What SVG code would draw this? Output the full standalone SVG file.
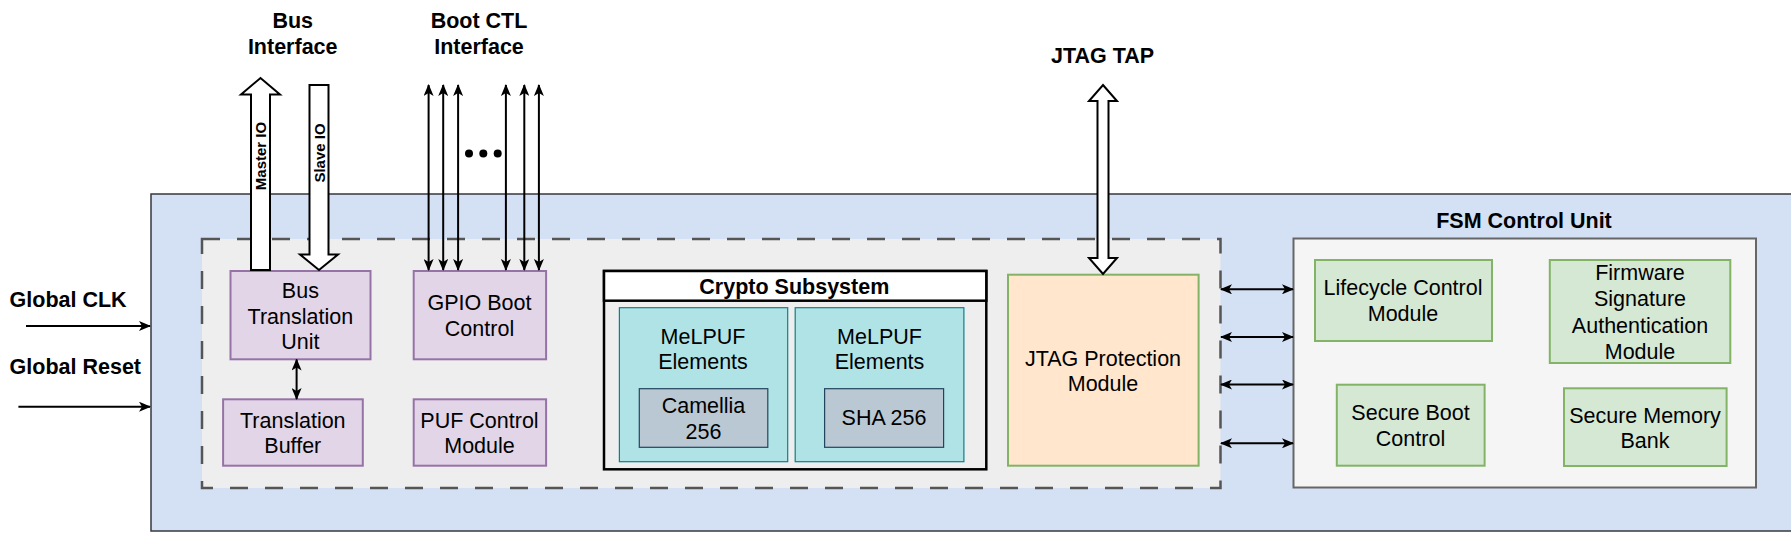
<svg xmlns="http://www.w3.org/2000/svg" width="1791" height="534" viewBox="0 0 1791 534">
<defs>
<marker id="ah" viewBox="0 0 12 10" refX="11" refY="5" markerWidth="12" markerHeight="10" markerUnits="userSpaceOnUse" orient="auto-start-reverse">
<path d="M0,0 L12,5 L0,10 L3,5 Z" fill="#000"/>
</marker>
</defs>
<style>
text{font-family:"Liberation Sans",Arial,sans-serif;fill:#000;}
.t{font-size:21.5px;text-anchor:middle;}
.b{font-size:21.5px;font-weight:bold;}
.bc{font-size:21.5px;font-weight:bold;text-anchor:middle;}
.lab{font-size:15px;font-weight:bold;text-anchor:middle;}
.purple{fill:#e1d5e7;stroke:#9673a6;stroke-width:2;}
.green{fill:#d5e8d4;stroke:#82b366;stroke-width:2;}
.teal{fill:#b0e3e6;stroke:#0e8088;stroke-width:1.2;}
.grey{fill:#bac8d3;stroke:#23445d;stroke-width:1.2;}
.conn{stroke:#000;stroke-width:2;fill:none;marker-end:url(#ah);}
.dbl{marker-start:url(#ah);}
.block{fill:#fff;stroke:#000;stroke-width:2;stroke-linejoin:miter;}
</style>

<!-- containers -->
<g id="outer">
<rect x="151" y="194" width="1660" height="337" fill="#d4e1f5" stroke="#36393d" stroke-width="1.5"/>
</g>
<g id="dashed-region">
<rect x="202" y="239" width="1018.5" height="249" fill="#eeeeee" stroke="#555" stroke-width="2.5" stroke-dasharray="18 17"/>
</g>
<g id="fsm-control-unit">
<text class="bc" x="1524" y="228">FSM Control Unit</text>
<rect x="1293.5" y="238.5" width="462.5" height="249" fill="#f5f5f5" stroke="#666" stroke-width="2"/>
</g>

<!-- external labels -->
<g id="bus-interface-label">
<text class="bc" x="292.7" y="28">Bus</text>
<text class="bc" x="292.7" y="54">Interface</text>
</g>
<g id="boot-ctl-label">
<text class="bc" x="479" y="28">Boot CTL</text>
<text class="bc" x="479" y="54">Interface</text>
</g>
<g id="jtag-tap-label">
<text class="bc" x="1102.5" y="62.5">JTAG TAP</text>
</g>
<g id="global-clk-label"><text class="b" x="9.6" y="307">Global CLK</text></g>
<g id="global-reset-label"><text class="b" x="9.6" y="374">Global Reset</text></g>

<!-- nodes -->
<g id="bus-translation-unit">
<rect class="purple" x="230.5" y="271" width="140" height="88.3"/>
<text class="t" x="300.4" y="297.5">Bus</text>
<text class="t" x="300.4" y="323.5">Translation</text>
<text class="t" x="300.4" y="348.5">Unit</text>
</g>
<g id="gpio-boot-control">
<rect class="purple" x="413.7" y="271" width="132.4" height="88.3"/>
<text class="t" x="479.5" y="310">GPIO Boot</text>
<text class="t" x="479.5" y="336">Control</text>
</g>
<g id="translation-buffer">
<rect class="purple" x="223.1" y="399.3" width="139.7" height="66.4"/>
<text class="t" x="292.8" y="427.5">Translation</text>
<text class="t" x="292.8" y="452.5">Buffer</text>
</g>
<g id="puf-control-module">
<rect class="purple" x="413.7" y="399.3" width="132.4" height="66.4"/>
<text class="t" x="479.5" y="427.5">PUF Control</text>
<text class="t" x="479.5" y="452.5">Module</text>
</g>
<g id="crypto-subsystem">
<rect x="604" y="271" width="382.3" height="198.3" fill="#eeeeee" stroke="#000" stroke-width="2.5"/>
<rect x="604" y="271" width="382.3" height="29.7" fill="#fff" stroke="#000" stroke-width="2.5"/>
<text class="bc" x="794.3" y="294">Crypto Subsystem</text>
</g>
<g id="melpuf-1">
<rect class="teal" x="619.4" y="307.7" width="168.3" height="154"/>
<text class="t" x="703" y="343.5">MeLPUF</text>
<text class="t" x="703" y="368.5">Elements</text>
</g>
<g id="camellia-256">
<rect class="grey" x="639.3" y="388.7" width="128.5" height="58.6"/>
<text class="t" x="703.5" y="412.5">Camellia</text>
<text class="t" x="703.5" y="438.5">256</text>
</g>
<g id="melpuf-2">
<rect class="teal" x="795.2" y="307.7" width="168.7" height="154"/>
<text class="t" x="879.5" y="343.5">MeLPUF</text>
<text class="t" x="879.5" y="368.5">Elements</text>
</g>
<g id="sha-256">
<rect class="grey" x="824.6" y="388.7" width="119" height="58.6"/>
<text class="t" x="884" y="425">SHA 256</text>
</g>
<g id="jtag-protection-module">
<rect x="1008" y="274.7" width="190.6" height="191" fill="#ffe6cc" stroke="#82b366" stroke-width="2"/>
<text class="t" x="1103" y="366">JTAG Protection</text>
<text class="t" x="1103" y="391">Module</text>
</g>
<g id="lifecycle-control-module">
<rect class="green" x="1315" y="260" width="177" height="81"/>
<text class="t" x="1403" y="295">Lifecycle Control</text>
<text class="t" x="1403" y="321">Module</text>
</g>
<g id="firmware-signature-authentication-module">
<rect class="green" x="1549.8" y="260" width="180.5" height="103"/>
<text class="t" x="1640" y="280">Firmware</text>
<text class="t" x="1640" y="306">Signature</text>
<text class="t" x="1640" y="332.5">Authentication</text>
<text class="t" x="1640" y="359">Module</text>
</g>
<g id="secure-boot-control">
<rect class="green" x="1336.8" y="384.7" width="147.8" height="81"/>
<text class="t" x="1410.5" y="420">Secure Boot</text>
<text class="t" x="1410.5" y="446">Control</text>
</g>
<g id="secure-memory-bank">
<rect class="green" x="1564" y="388.3" width="162.6" height="77.7"/>
<text class="t" x="1645" y="422.5">Secure Memory</text>
<text class="t" x="1645" y="448">Bank</text>
</g>

<!-- connectors -->
<g id="connectors">
<polygon class="block" points="251,270 251,94.5 241,94.5 260.5,78 280,94.5 270,94.5 270,270"/>
<text class="lab" transform="translate(266,156) rotate(-90)">Master IO</text>
<polygon class="block" points="309.5,85 328.5,85 328.5,254.5 338,254.5 319,270 300,254.5 309.5,254.5"/>
<text class="lab" transform="translate(324.5,153) rotate(-90)">Slave IO</text>
<polygon class="block" points="1103,85 1117,101 1108.5,101 1108.5,258 1117,258 1103,274 1089,258 1097.5,258 1097.5,101 1089,101"/>

<line class="conn dbl" x1="428.6" y1="85" x2="428.6" y2="270"/>
<line class="conn dbl" x1="443.2" y1="85" x2="443.2" y2="270"/>
<line class="conn dbl" x1="458.1" y1="85" x2="458.1" y2="270"/>
<line class="conn dbl" x1="505.9" y1="85" x2="505.9" y2="270"/>
<line class="conn dbl" x1="524.3" y1="85" x2="524.3" y2="270"/>
<line class="conn dbl" x1="538.9" y1="85" x2="538.9" y2="270"/>
<circle cx="469" cy="153.5" r="4"/>
<circle cx="483.3" cy="153.5" r="4"/>
<circle cx="497.7" cy="153.5" r="4"/>

<line class="conn dbl" x1="296.6" y1="359.5" x2="296.6" y2="399"/>

<line class="conn" x1="26" y1="326" x2="150" y2="326"/>
<line class="conn" x1="18.4" y1="406.7" x2="150" y2="406.7"/>

<line class="conn dbl" x1="1221" y1="289.3" x2="1293" y2="289.3"/>
<line class="conn dbl" x1="1221" y1="337" x2="1293" y2="337"/>
<line class="conn dbl" x1="1221" y1="384.5" x2="1293" y2="384.5"/>
<line class="conn dbl" x1="1221" y1="443.3" x2="1293" y2="443.3"/>
</g>
</svg>
